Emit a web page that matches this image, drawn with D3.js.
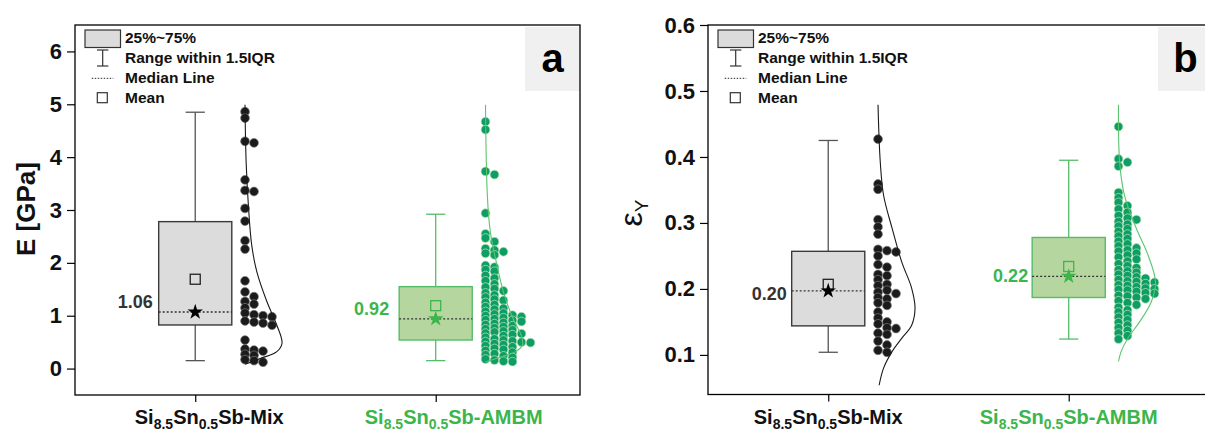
<!DOCTYPE html>
<html>
<head>
<meta charset="utf-8">
<script src="https://cdn.jsdelivr.net/npm/d3@7/dist/d3.min.js"></script>
<style>
  body { margin: 0; background: #fff; }
  text { font-family: Arial, "Liberation Sans", sans-serif; }
</style>
</head>
<body>
<svg id="chart" width="1205" height="435"></svg>
<script>
// ---- data ----
var categories = ["Mix", "AMBM"];

// Young's modulus E [GPa], panel a
var modulusMix = [4.86, 4.74, 4.30, 4.27, 3.57, 3.37, 3.35, 3.03, 2.79, 2.42, 2.26, 1.66, 1.45,
	1.36, 1.27, 1.22, 1.15, 1.05, 1.02, 1.00, 0.98, 0.90, 0.88, 0.86, 0.82, 0.54, 0.37, 0.35,
	0.33, 0.27, 0.25, 0.17, 0.15, 0.12];
var modulusAmbm = [4.67, 4.52, 3.73, 3.67, 2.94, 2.55, 2.47, 2.40, 2.27, 2.24, 2.21, 2.18, 2.15,
	1.95, 1.92, 1.87, 1.84, 1.76, 1.71, 1.66, 1.60, 1.54, 1.51, 1.47, 1.43, 1.39, 1.35, 1.31,
	1.29, 1.25, 1.21, 1.17, 1.14, 1.12, 1.08, 1.05, 1.03, 1.01, 1.00, 0.98, 0.96, 0.94,
	0.92, 0.91, 0.89, 0.87, 0.85, 0.83, 0.81, 0.79, 0.77, 0.75, 0.73, 0.71, 0.69, 0.67, 0.66,
	0.64, 0.62, 0.59, 0.56, 0.54, 0.52, 0.51, 0.50, 0.49, 0.47, 0.45, 0.43, 0.41, 0.38, 0.36,
	0.34, 0.31, 0.28, 0.26, 0.24, 0.21, 0.18, 0.16, 0.14, 0.13];

// yield strain, panel b
var strainMix = [0.427, 0.359, 0.351, 0.305, 0.294, 0.283, 0.260, 0.258, 0.256, 0.250, 0.237,
	0.233, 0.222, 0.220, 0.214, 0.207, 0.205, 0.198, 0.195, 0.193, 0.187, 0.185, 0.179, 0.175,
	0.165, 0.156, 0.150, 0.147, 0.141, 0.140, 0.133, 0.131, 0.121, 0.115, 0.107, 0.104];
var strainAmbm = [0.446, 0.397, 0.392, 0.386, 0.346, 0.338, 0.331, 0.326, 0.321, 0.316, 0.311,
	0.307, 0.305, 0.302, 0.298, 0.295, 0.291, 0.287, 0.283, 0.280, 0.276, 0.272, 0.268, 0.265,
	0.262, 0.259, 0.257, 0.254, 0.251, 0.248, 0.245, 0.242, 0.238, 0.235, 0.232, 0.229, 0.227,
	0.225, 0.222, 0.220, 0.218, 0.216, 0.214, 0.212, 0.211, 0.210, 0.208, 0.206, 0.205, 0.203,
	0.201, 0.200, 0.199, 0.198, 0.196, 0.194, 0.193, 0.190, 0.189, 0.187, 0.185, 0.182, 0.179,
	0.176, 0.172, 0.168, 0.165, 0.161, 0.157, 0.153, 0.149, 0.145, 0.141, 0.137, 0.133, 0.129,
	0.124];

// box statistics [Mix, AMBM]
var modulusQ1 = [0.825, 0.54], modulusQ3 = [2.78, 1.55];
var modulusMedian = [1.07, 0.94], modulusMean = [1.69, 1.19];
var modulusLow = [0.15, 0.15], modulusHigh = [4.85, 2.92];
var modulusLabels = ["1.06", "0.92"];

var strainQ1 = [0.144, 0.187], strainQ3 = [0.257, 0.278];
var strainMedian = [0.197, 0.219], strainMean = [0.207, 0.234];
var strainLow = [0.104, 0.124], strainHigh = [0.425, 0.395];
var strainLabels = ["0.20", "0.22"];

// distribution curves [value, relative density]
var modulusCurveMix = [[4.99, 0], [3.91, 0.03], [3.10, 0.09], [2.34, 0.18], [1.83, 0.32],
	[1.27, 0.59], [0.82, 0.86], [0.48, 1.0], [0.32, 0.86], [0.19, 0.41], [0.08, 0]];
var modulusCurveAmbm = [[4.99, 0], [3.28, 0.05], [2.59, 0.13], [2.02, 0.29], [1.39, 0.51],
	[0.89, 0.78], [0.64, 0.96], [0.45, 1.0], [0.32, 0.82], [0.23, 0.46], [0.13, 0]];
var strainCurveMix = [[0.479, 0], [0.393, 0.06], [0.342, 0.15], [0.292, 0.38], [0.241, 0.64],
	[0.201, 0.91], [0.171, 1.0], [0.145, 0.91], [0.125, 0.64], [0.105, 0.38], [0.080, 0.15],
	[0.054, 0.03]];
var strainCurveAmbm = [[0.479, 0], [0.393, 0.03], [0.342, 0.16], [0.292, 0.48], [0.251, 0.80],
	[0.211, 1.0], [0.181, 0.89], [0.150, 0.57], [0.125, 0.25], [0.105, 0.07], [0.090, 0]];

var modulusTicks = [0, 1, 2, 3, 4, 5, 6];
var strainTicks = [0.1, 0.2, 0.3, 0.4, 0.5, 0.6];
var legendLabels = ["25%~75%", "Range within 1.5IQR", "Median Line", "Mean"];

// ---- styles ----
var looks = [
	{ boxFill: "#dcdcdc", boxStroke: "#3a3a3a", whisker: "#555", dot: "#1b1b1b", dotEdge: "#7a7a7a",
	  curve: "#1a1a1a", mean: "#222", star: "#000", label: "#333" },
	{ boxFill: "#b5d69f", boxStroke: "#55bd6a", whisker: "#55bd6a", dot: "#0d9d66", dotEdge: "#c4e5b4",
	  curve: "#5cc46f", mean: "#3cb54a", star: "#3cb54a", label: "#3cb54a" }
];

var svg = d3.select("#chart");

// place points in columns so that they do not pile on top of each other
function swarm(values, y, gap) {
	var cols = [];
	return values.slice().sort(d3.descending).map(function(v) {
		var py = y(v), k = 0;
		while (cols[k] && cols[k].some(function(q) { return Math.abs(q - py) < gap; })) k++;
		(cols[k] = cols[k] || []).push(py);
		return { value: v, col: k };
	});
}

function drawPanel(p) {
	var x = d3.scaleLinear().domain([0.5, 2.6]).range([p.left, p.right]);
	var y = d3.scaleLinear().domain(p.yDomain).range([p.bottom, p.top]);
	var g = svg.append("g");

	// panel letter
	g.append("rect")
		.attr("x", p.right - 55).attr("y", p.top + 2)
		.attr("width", 55).attr("height", 64)
		.attr("fill", "#f0f0f0");
	g.append("text")
		.attr("x", p.right - 27.5).attr("y", p.top + 47)
		.attr("text-anchor", "middle")
		.attr("font-size", 40).attr("font-weight", "bold")
		.text(p.letter);

	// y axis
	g.append("g")
		.attr("transform", "translate(" + p.left + ",0)")
		.call(d3.axisLeft(y).tickValues(p.ticks).tickSize(8).tickPadding(5).tickFormat(p.fmt))
		.call(function(a) {
			a.select(".domain").remove();
			a.selectAll("line").attr("stroke", "#000").attr("stroke-width", 1.2);
			a.selectAll("text").attr("font-size", 22).attr("font-weight", "bold").attr("fill", "#111")
				.attr("font-family", "Arial, 'Liberation Sans', sans-serif");
		});

	// x axis
	var xa = g.append("g")
		.attr("transform", "translate(0," + p.bottom + ")")
		.call(d3.axisBottom(x).tickValues([1, 2]).tickSize(7).tickFormat(""));
	xa.select(".domain").remove();
	xa.selectAll("line").attr("stroke", "#000").attr("stroke-width", 1.2);

	categories.forEach(function(cat, i) {
		var t = g.append("text")
			.attr("x", x(i + 1) + p.labelDx[i]).attr("y", 424)
			.attr("text-anchor", "middle")
			.attr("font-size", 20).attr("font-weight", "bold")
			.attr("fill", i === 0 ? "#111" : "#3cb54a");
		t.append("tspan").text("Si");
		t.append("tspan").attr("dy", 5).attr("font-size", 14).text("8.5");
		t.append("tspan").attr("dy", -5).text("Sn");
		t.append("tspan").attr("dy", 5).attr("font-size", 14).text("0.5");
		t.append("tspan").attr("dy", -5).text("Sb-" + cat);
	});

	// y title
	p.title(g);

	// boxes
	categories.forEach(function(cat, i) {
		var c = i + 1, lk = looks[i], bw = 0.152, cw = 0.04;
		g.append("line")
			.attr("x1", x(c)).attr("x2", x(c))
			.attr("y1", y(p.high[i])).attr("y2", y(p.q3[i]))
			.attr("stroke", lk.whisker).attr("stroke-width", 1.3);
		g.append("line")
			.attr("x1", x(c)).attr("x2", x(c))
			.attr("y1", y(p.q1[i])).attr("y2", y(p.low[i]))
			.attr("stroke", lk.whisker).attr("stroke-width", 1.3);
		[p.high[i], p.low[i]].forEach(function(v) {
			g.append("line")
				.attr("x1", x(c - cw)).attr("x2", x(c + cw))
				.attr("y1", y(v)).attr("y2", y(v))
				.attr("stroke", lk.whisker).attr("stroke-width", 1.3);
		});
		g.append("rect")
			.attr("x", x(c - bw)).attr("y", y(p.q3[i]))
			.attr("width", x(c + bw) - x(c - bw)).attr("height", y(p.q1[i]) - y(p.q3[i]))
			.attr("fill", lk.boxFill).attr("stroke", lk.boxStroke).attr("stroke-width", 1.4);
		g.append("line")
			.attr("x1", x(c - bw)).attr("x2", x(c + bw))
			.attr("y1", y(p.median[i])).attr("y2", y(p.median[i]))
			.attr("stroke", "#333").attr("stroke-width", 1.3).attr("stroke-dasharray", "2,2");
		g.append("rect")
			.attr("x", x(c) - 5).attr("y", y(p.mean[i]) - 5)
			.attr("width", 10).attr("height", 10)
			.attr("fill", "none").attr("stroke", lk.mean).attr("stroke-width", 1.3);
		g.append("path")
			.attr("d", d3.symbol(d3.symbolStar, 75)())
			.attr("transform", "translate(" + x(c) + "," + y(p.median[i]) + ")")
			.attr("fill", lk.star);
		g.append("text")
			.attr("x", x(c - bw) - p.labelGap[i]).attr("y", y(p.median[i]) + p.labelDy[i])
			.attr("text-anchor", "end")
			.attr("font-size", 18).attr("font-weight", "bold")
			.attr("fill", lk.label)
			.text(p.labels[i]);

		// points and distribution curve
		var x0 = x(c + 0.207);
		var pts = swarm(p.values[i], y, p.gap[i]);
		g.selectAll(null)
			.data(pts)
			.enter().append("circle")
			.attr("cx", function(d) { return x0 + d.col * 9; })
			.attr("cy", function(d) { return y(d.value); })
			.attr("r", 4.4)
			.attr("fill", lk.dot).attr("stroke", lk.dotEdge).attr("stroke-width", 0.7);
		var w = d3.scaleLinear().domain([0, 1]).range([x0, x0 + 37]);
		g.append("path")
			.datum(p.curves[i])
			.attr("d", d3.line()
				.x(function(d) { return w(d[1]); })
				.y(function(d) { return y(d[0]); })
				.curve(d3.curveCatmullRom))
			.attr("fill", "none").attr("stroke", lk.curve).attr("stroke-width", 1.1);
	});

	// legend
	var lx = p.left;
	g.append("rect").attr("x", lx + 10).attr("y", 30).attr("width", 35.5).attr("height", 17.5)
		.attr("fill", "#dcdcdc").attr("stroke", "#333").attr("stroke-width", 1.2);
	g.append("line").attr("x1", lx + 27.7).attr("x2", lx + 27.7).attr("y1", 50).attr("y2", 66)
		.attr("stroke", "#333").attr("stroke-width", 1.2);
	[50, 66].forEach(function(v) {
		g.append("line").attr("x1", lx + 22).attr("x2", lx + 33.4).attr("y1", v).attr("y2", v)
			.attr("stroke", "#333").attr("stroke-width", 1.2);
	});
	g.append("line").attr("x1", lx + 16.7).attr("x2", lx + 38.3).attr("y1", 78.3).attr("y2", 78.3)
		.attr("stroke", "#555").attr("stroke-width", 1.2).attr("stroke-dasharray", "1.5,1.5");
	g.append("rect").attr("x", lx + 22.3).attr("y", 92.7).attr("width", 10).attr("height", 10)
		.attr("fill", "none").attr("stroke", "#333").attr("stroke-width", 1.2);
	g.selectAll(null)
		.data(legendLabels)
		.enter().append("text")
		.attr("x", lx + 50)
		.attr("y", function(d, k) { return 43 + k * 20; })
		.attr("font-size", 15.5).attr("font-weight", "bold").attr("fill", "#111")
		.text(function(d) { return d; });

	// frame
	g.append("rect")
		.attr("x", p.left).attr("y", p.top)
		.attr("width", p.right - p.left).attr("height", p.bottom - p.top)
		.attr("fill", "none").attr("stroke", "#000").attr("stroke-width", 1.3);
}

drawPanel({
	left: 75, right: 580, top: 25, bottom: 395,
	yDomain: [-0.5, 6.5], ticks: modulusTicks, fmt: d3.format("d"), letter: "a",
	values: [modulusMix, modulusAmbm], curves: [modulusCurveMix, modulusCurveAmbm],
	q1: modulusQ1, q3: modulusQ3, median: modulusMedian, mean: modulusMean,
	low: modulusLow, high: modulusHigh, labels: modulusLabels, gap: [5, 4],
	labelGap: [6, 10], labelDy: [-4, -4], labelDx: [14, 18],
	title: function(g) {
		g.append("text")
			.attr("transform", "translate(35,209) rotate(-90)")
			.attr("text-anchor", "middle")
			.attr("font-size", 26).attr("font-weight", "bold").attr("fill", "#111")
			.text("E [GPa]");
	}
});

drawPanel({
	left: 708, right: 1213, top: 25, bottom: 394.5,
	yDomain: [0.04, 0.6], ticks: strainTicks, fmt: d3.format(".1f"), letter: "b",
	values: [strainMix, strainAmbm], curves: [strainCurveMix, strainCurveAmbm],
	q1: strainQ1, q3: strainQ3, median: strainMedian, mean: strainMean,
	low: strainLow, high: strainHigh, labels: strainLabels, gap: [5, 4.5],
	labelGap: [5, 4], labelDy: [9, 6], labelDx: [0, 0],
	title: function(g) {
		var t = g.append("text")
			.attr("transform", "translate(642,213) rotate(-90)")
			.attr("text-anchor", "middle")
			.attr("fill", "#111");
		t.append("tspan").attr("font-size", 32).text("ε");
		t.append("tspan").attr("font-size", 19).attr("dy", 6).text("Y");
	}
});
</script>
</body>
</html>
